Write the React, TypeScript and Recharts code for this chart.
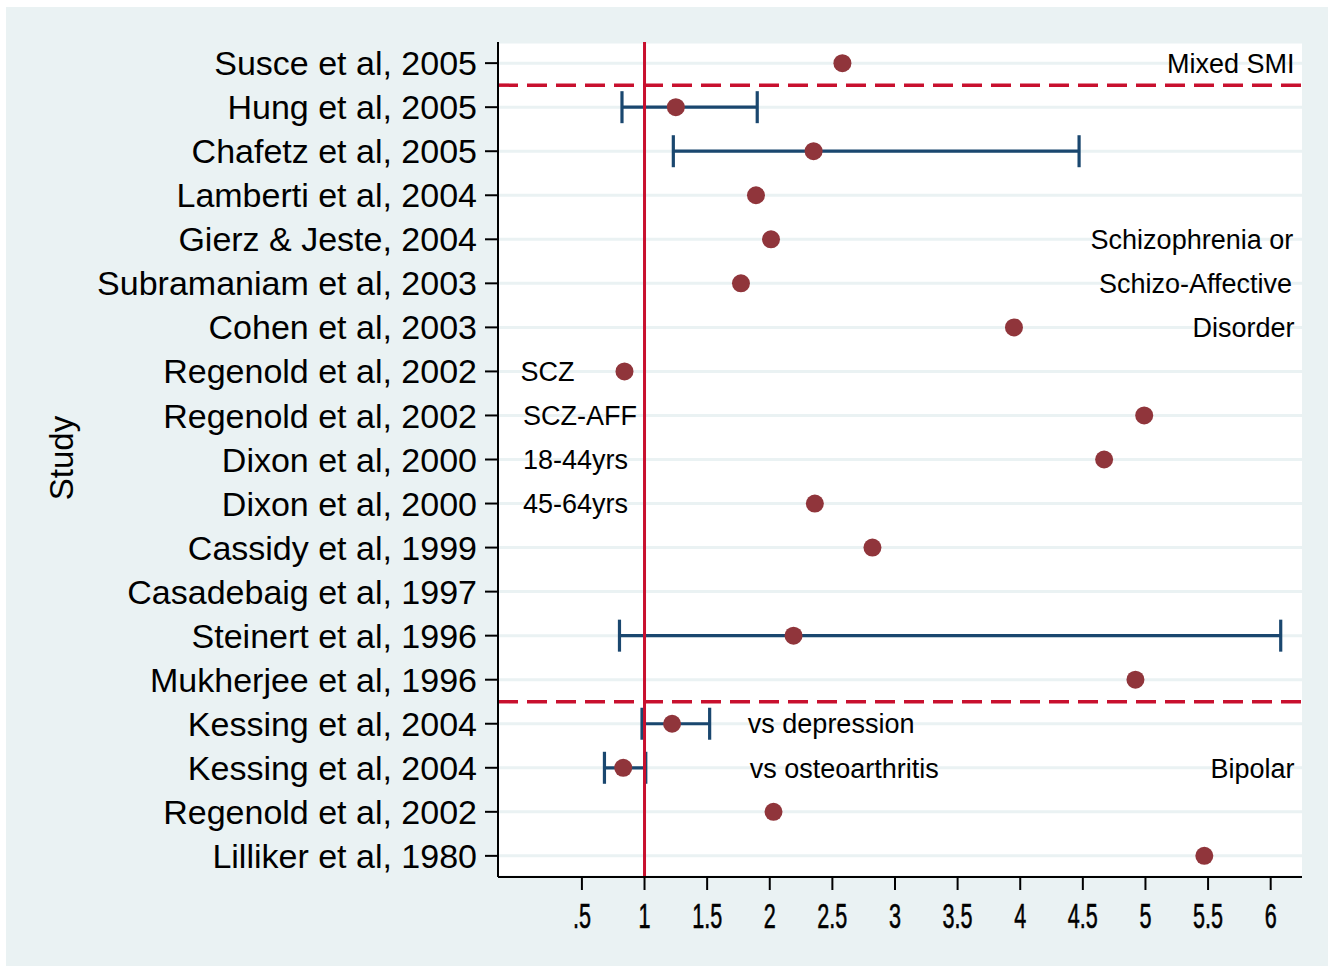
import { CartesianGrid, ErrorBar, ReferenceLine, Scatter, ScatterChart, XAxis, YAxis } from "recharts";

const studies = [
  "Susce et al, 2005",
  "Hung et al, 2005",
  "Chafetz et al, 2005",
  "Lamberti et al, 2004",
  "Gierz & Jeste, 2004",
  "Subramaniam et al, 2003",
  "Cohen et al, 2003",
  "Regenold et al, 2002",
  "Regenold et al, 2002",
  "Dixon et al, 2000",
  "Dixon et al, 2000",
  "Cassidy et al, 1999",
  "Casadebaig et al, 1997",
  "Steinert et al, 1996",
  "Mukherjee et al, 1996",
  "Kessing et al, 2004",
  "Kessing et al, 2004",
  "Regenold et al, 2002",
  "Lilliker et al, 1980",
];

const estimates = [2.58, 1.25, 2.35, 1.89, 2.01, 1.77, 3.95, 0.84, 4.99, 4.67, 2.36, 2.82, null, 2.19, 4.92, 1.22, 0.83, 2.03, 5.47];
const lower = [null, 0.82, 1.23, null, null, null, null, null, null, null, null, null, null, 0.8, null, 0.98, 0.68, null, null];
const upper = [null, 1.9, 4.47, null, null, null, null, null, null, null, null, null, null, 6.08, null, 1.52, 1.01, null, null];

const xTicks = [0.5, 1, 1.5, 2, 2.5, 3, 3.5, 4, 4.5, 5, 5.5, 6];
const groupBreaks = [1.5, 15.5];

const notes = [
  { text: "Mixed SMI", x: 6.19, row: 1, anchor: "end" },
  { text: "Schizophrenia or", x: 6.18, row: 5, anchor: "end" },
  { text: "Schizo-Affective", x: 6.17, row: 6, anchor: "end" },
  { text: "Disorder", x: 6.19, row: 7, anchor: "end" },
  { text: "SCZ", x: 0.01, row: 8, anchor: "start" },
  { text: "SCZ-AFF", x: 0.03, row: 9, anchor: "start" },
  { text: "18-44yrs", x: 0.03, row: 10, anchor: "start" },
  { text: "45-64yrs", x: 0.03, row: 11, anchor: "start" },
  { text: "vs depression", x: 1.825, row: 16, anchor: "start" },
  { text: "vs osteoarthritis", x: 1.84, row: 17, anchor: "start" },
  { text: "Bipolar", x: 6.19, row: 17, anchor: "end" },
];

const font = "'Liberation Sans', Arial, Helvetica, sans-serif";
const navy = "#1A476F";
const maroon = "#90353B";
const red = "#C8102E";
const bg = "#EAF2F3";

const points = studies
  .map((name, i) => ({
    name,
    row: i + 1,
    est: estimates[i],
    err: lower[i] != null && upper[i] != null ? [estimates[i]! - lower[i]!, upper[i]! - estimates[i]!] : null,
  }))
  .filter((p) => p.est != null);

// the x axis reads "est", so the note positions go in that field too
const noteData = notes.map((n) => ({ est: n.x, row: n.row, text: n.text, anchor: n.anchor }));

const Dot = (props: any) => <circle cx={props.cx} cy={props.cy} r={9} fill={maroon} />;

const Note = (props: any) => (
  <text x={props.cx} y={props.cy} dy="0.36em" textAnchor={props.payload.anchor} fontSize={27} fontFamily={font} fill="#000">
    {props.payload.text}
  </text>
);

const XTick = (props: any) => {
  const v = props.payload.value;
  return (
    <g transform={`translate(${props.x},${props.y}) scale(0.6,1)`}>
      <text x={0} y={0} dy={38} textAnchor="middle" fontSize={36} fontFamily={font} fill="#000" stroke="#000" strokeWidth={0.6}>
        {v === 0.5 ? ".5" : String(v)}
      </text>
    </g>
  );
};

export default function App() {
  return (
    <div style={{ position: "absolute", left: 6, top: 7, width: 1322, height: 959, background: bg }}>
      <div
        style={{
          position: "absolute",
          left: 56,
          top: 451,
          transform: "translate(-50%, -50%) rotate(-90deg)",
          fontFamily: font,
          fontSize: 33,
          color: "#000",
          whiteSpace: "nowrap",
        }}
      >
        Study
      </div>
      <ScatterChart width={1322} height={959} margin={{ top: 35, right: 26, bottom: 0, left: 0 }}>
        <CartesianGrid vertical={false} stroke={bg} strokeWidth={3} fill="#fff" fillOpacity={1} />
        <XAxis
          type="number"
          dataKey="est"
          domain={[-0.17, 6.25]}
          ticks={xTicks}
          allowDataOverflow
          height={89}
          tickSize={13}
          tickMargin={0}
          axisLine={{ stroke: "#000", strokeWidth: 2 }}
          tickLine={{ stroke: "#000", strokeWidth: 2 }}
          tick={<XTick />}
        />
        <YAxis
          type="number"
          dataKey="row"
          domain={[0.52, 19.48]}
          ticks={studies.map((_, i) => i + 1)}
          reversed
          allowDataOverflow
          interval={0}
          width={492}
          tickSize={13}
          tickMargin={8}
          axisLine={{ stroke: "#000", strokeWidth: 2 }}
          tickLine={{ stroke: "#000", strokeWidth: 2 }}
          tick={{ fontSize: 34, fontFamily: font, fill: "#000" }}
          tickFormatter={(v: number) => studies[v - 1] ?? ""}
        />
        {groupBreaks.map((b) => (
          <ReferenceLine key={b} y={b} stroke={red} strokeWidth={3.5} strokeDasharray="20 9" />
        ))}
        <Scatter data={points} dataKey="row" shape={<Dot />} isAnimationActive={false}>
          <ErrorBar dataKey="err" direction="x" width={16} stroke={navy} strokeWidth={3.2} />
        </Scatter>
        <ReferenceLine x={1} stroke={red} strokeWidth={3} />
        <Scatter data={noteData} dataKey="row" shape={<Note />} isAnimationActive={false} />
      </ScatterChart>
    </div>
  );
}
